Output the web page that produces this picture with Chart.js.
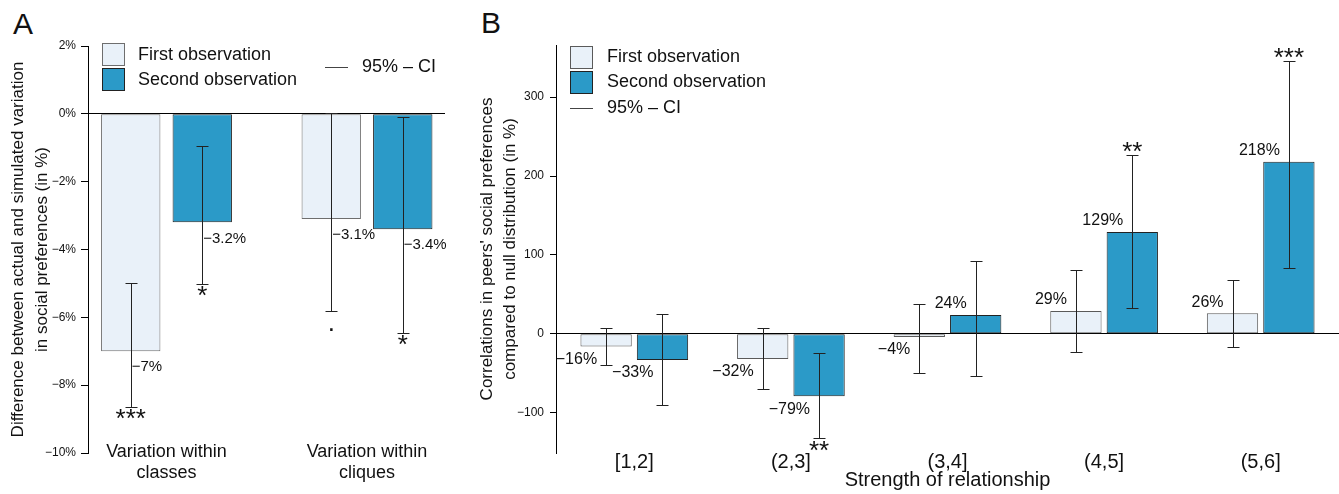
<!DOCTYPE html>
<html>
<head>
<meta charset="utf-8">
<title>Social preferences of peers</title>
<script src="https://cdn.jsdelivr.net/npm/chart.js@4.4.1/dist/chart.umd.min.js"></script>
<style>
  html, body { margin: 0; padding: 0; background: #fff; }
  body { width: 1339px; height: 494px; position: relative; overflow: hidden; font-family: 'Liberation Sans', Arial, sans-serif; }
  canvas { position: absolute; top: 0; }
  #chartA { left: 0; }
  #chartB { left: 460px; }
  .panel { position: absolute; font-size: 30px; line-height: 30px; color: #111; }
</style>
</head>
<body>
<div class="panel" style="left:13px;top:9px">A</div>
<div class="panel" style="left:481px;top:8px">B</div>
<canvas id="chartA" width="460" height="494"></canvas>
<canvas id="chartB" width="879" height="494"></canvas>
<script>
// ---------- panel A ----------
const categoriesA = [['Variation within', 'classes'], ['Variation within', 'cliques']];
const firstA = [-7, -3.1];
const secondA = [-3.2, -3.4];
const ciLowFirstA = [-8.65, -5.8];
const ciHighFirstA = [-5.0, 0.03];
const ciLowSecondA = [-5.03, -6.47];
const ciHighSecondA = [-0.94, -0.09];
const sigFirstA = ['***', '.'];
const sigSecondA = ['*', '*'];
const yTickLabelsA = ['−10%', '−8%', '−6%', '−4%', '−2%', '0%', '2%'];
const yTitleA = ['Difference between actual and simulated variation', 'in social preferences (in %)'];

// ---------- panel B ----------
const categoriesB = ['[1,2]', '(2,3]', '(3,4]', '(4,5]', '(5,6]'];
const firstB = [-16, -32, -4, 29, 26];
const secondB = [-33, -79, 24, 129, 218];
const ciLowFirstB = [-40, -70, -50, -23, -17];
const ciHighFirstB = [7, 8, 38, 81, 68];
const ciLowSecondB = [-90, -132, -53, 33, 84];
const ciHighSecondB = [25, -24, 92, 227, 346];
const sigFirstB = ['', '', '', '', ''];
const sigSecondB = ['', '**', '', '**', '***'];
const yTickLabelsB = ['−100', '0', '100', '200', '300'];
const yTitleB = ["Correlations in peers' social preferences", 'compared to null distribution (in %)'];
const xTitleB = 'Strength of relationship';

const legendLabels = ['First observation', 'Second observation'];
const ciLabel = '95% – CI';

const ink = '#111';
const lightFill = '#e9f1f9';
const darkFill = '#2b9ac8';
const fontFamily = "'Liberation Sans', Arial, sans-serif";

Chart.defaults.font.family = fontFamily;
Chart.defaults.color = ink;

function fmt(v) {
    return (v < 0 ? '−' : '') + Math.abs(v) + '%';
}

// error bars, value labels, stars and legend drawn on top of the bars
function annotations(cfg) {
    return {
        id: 'annot',
        afterDatasetsDraw(chart) {
            const ctx = chart.ctx;
            const yScale = chart.scales.y;
            const xScale = chart.scales.x;
            const a = chart.chartArea;
            ctx.save();
            chart.data.datasets.forEach((ds, d) => {
                const meta = chart.getDatasetMeta(d);
                meta.data.forEach((bar, i) => {
                    const xx = Math.round(bar.x) + 0.5;
                    const lo = Math.round(yScale.getPixelForValue(cfg.ciLow[d][i])) + 0.5;
                    const hi = Math.round(yScale.getPixelForValue(cfg.ciHigh[d][i])) + 0.5;
                    ctx.strokeStyle = '#222';
                    ctx.lineWidth = 1;
                    ctx.beginPath();
                    ctx.moveTo(xx, hi); ctx.lineTo(xx, lo);
                    ctx.moveTo(xx - cfg.cap, hi); ctx.lineTo(xx + cfg.cap, hi);
                    ctx.moveTo(xx - cfg.cap, lo); ctx.lineTo(xx + cfg.cap, lo);
                    ctx.stroke();

                    // value label
                    const v = cfg.values[d][i];
                    ctx.fillStyle = ink;
                    ctx.font = cfg.labelSize + 'px ' + fontFamily;
                    ctx.textBaseline = 'middle';
                    if (cfg.labelSide === 'right') {
                        ctx.textAlign = 'left';
                        ctx.fillText(fmt(v), bar.x + 1, bar.y + 16);
                    } else {
                        ctx.textAlign = 'right';
                        ctx.fillText(fmt(v), bar.x - 9, v >= 0 ? bar.y - 11 : bar.y + 13);
                    }

                    // significance
                    const s = cfg.sig[d][i];
                    if (s) {
                        ctx.font = '26px ' + fontFamily;
                        ctx.textAlign = 'center';
                        ctx.textBaseline = 'alphabetic';
                        if (v >= 0) ctx.fillText(s, bar.x, hi + 4);
                        else ctx.fillText(s, bar.x, lo + cfg.sigBelow);
                    }
                });
            });

            // category labels drawn here so they may sit above the plot bottom
            if (cfg.xLabels) {
                ctx.font = '18px ' + fontFamily;
                ctx.fillStyle = ink;
                ctx.textAlign = 'center';
                ctx.textBaseline = 'middle';
                cfg.xLabels.forEach((lines, i) => {
                    const px = xScale.getPixelForValue(i + 1);
                    lines.forEach((t, k) => ctx.fillText(t, px, a.bottom - 1 + k * 21));
                });
            }

            // legend
            const L = cfg.legend;
            ctx.font = '18px ' + fontFamily;
            ctx.textAlign = 'left';
            ctx.textBaseline = 'middle';
            chart.data.datasets.forEach((ds, d) => {
                const bx = a.left + L.boxX + 0.5;
                const by = a.top + L.boxY[d] + 0.5;
                ctx.fillStyle = ds.backgroundColor;
                ctx.fillRect(bx, by, 22, 22);
                ctx.strokeStyle = ds.borderColor;
                ctx.strokeRect(bx, by, 22, 22);
                ctx.fillStyle = ink;
                ctx.fillText(ds.label, a.left + L.textX, a.top + L.textY[d]);
            });
            ctx.strokeStyle = '#444';
            ctx.beginPath();
            ctx.moveTo(a.left + L.ciLine[0], a.top + L.ciLine[2] + 0.5);
            ctx.lineTo(a.left + L.ciLine[1], a.top + L.ciLine[2] + 0.5);
            ctx.stroke();
            ctx.fillStyle = ink;
            ctx.fillText(ciLabel, a.left + L.ciText[0], a.top + L.ciText[1]);
            ctx.restore();
        }
    };
}

function zeroLine(c) {
    return c.tick && c.tick.value === 0 ? '#000' : 'rgba(0,0,0,0)';
}

// ---------- chart A ----------
new Chart(document.getElementById('chartA'), {
    type: 'bar',
    data: {
        datasets: [{
            label: legendLabels[0],
            data: firstA.map((v, i) => ({ x: i + 1, y: v })),
            backgroundColor: lightFill,
            borderColor: '#6e6e6e',
            borderWidth: 1,
            borderSkipped: false,
            categoryPercentage: 0.914,
            barPercentage: 0.83
        },
        {
            label: legendLabels[1],
            data: secondA.map((v, i) => ({ x: i + 1, y: v })),
            backgroundColor: darkFill,
            borderColor: '#222',
            borderWidth: 1,
            borderSkipped: false,
            categoryPercentage: 0.914,
            barPercentage: 0.83
        }]
    },
    options: {
        responsive: false,
        animation: false,
        layout: { padding: { top: 46, right: 15, left: 0, bottom: 0 } },
        plugins: { legend: { display: false }, tooltip: { enabled: false } },
        scales: {
            x: {
                type: 'linear',
                bounds: 'data',
                offset: false,
                min: 0.6085,
                max: 2.389,
                grid: { display: false, drawTicks: false, offset: false },
                border: { display: false },
                ticks: { display: false, stepSize: 1, includeBounds: false },
                afterFit: s => { s.height = 41; }
            },
            y: {
                min: -10,
                max: 2,
                ticks: { stepSize: 2, padding: 5, color: ink, font: { size: 12 }, callback: (v, i) => yTickLabelsA[i] },
                grid: { color: zeroLine, tickColor: '#000', tickLength: 7, lineWidth: 1 },
                border: { display: true, color: '#000', width: 1 },
                title: { display: true, text: yTitleA, color: ink, font: { size: 17, lineHeight: 1.41 }, padding: { top: 6, bottom: 0 } },
                afterFit: s => { s.width = 88; }
            }
        }
    },
    plugins: [annotations({
        values: [firstA, secondA],
        ciLow: [ciLowFirstA, ciLowSecondA],
        ciHigh: [ciHighFirstA, ciHighSecondA],
        sig: [sigFirstA, sigSecondA],
        sigBelow: 19,
        xLabels: categoriesA,
        cap: 6,
        labelSize: 15,
        labelSide: 'right',
        legend: { boxX: 14, boxY: [-3, 22], textX: 50, textY: [9, 34], ciLine: [237, 260, 21], ciText: [274, 21] }
    })]
});

// ---------- chart B ----------
new Chart(document.getElementById('chartB'), {
    type: 'bar',
    data: {
        labels: categoriesB,
        datasets: [{
            label: legendLabels[0],
            data: firstB,
            backgroundColor: lightFill,
            borderColor: '#5a5a5a',
            borderWidth: 1,
            borderSkipped: false,
            categoryPercentage: 0.72,
            barPercentage: 0.91
        },
        {
            label: legendLabels[1],
            data: secondB,
            backgroundColor: darkFill,
            borderColor: '#222',
            borderWidth: 1,
            borderSkipped: false,
            categoryPercentage: 0.72,
            barPercentage: 0.91
        }]
    },
    options: {
        responsive: false,
        animation: false,
        layout: { padding: { top: 45, right: 0, left: 0, bottom: 0 } },
        plugins: { legend: { display: false }, tooltip: { enabled: false } },
        scales: {
            x: {
                grid: { display: false, drawTicks: false },
                border: { display: false },
                ticks: { padding: -2.5, color: ink, maxRotation: 0, font: { size: 20, lineHeight: 1.15 } },
                title: { display: true, text: xTitleB, color: ink, font: { size: 20, lineHeight: 1.15 }, padding: { top: 0, bottom: 2.5 } },
                afterFit: s => { s.height = 41; }
            },
            y: {
                min: -151,
                max: 366,
                ticks: { stepSize: 100, includeBounds: false, padding: 6, color: ink, font: { size: 12 }, callback: (v, i) => yTickLabelsB[i] },
                grid: { color: zeroLine, tickColor: '#000', tickLength: 6, lineWidth: 1 },
                border: { display: true, color: '#000', width: 1 },
                title: { display: true, text: yTitleB, color: ink, font: { size: 17, lineHeight: 23 / 17 }, padding: { top: 15.5, bottom: 0 } },
                afterFit: s => { s.width = 96; }
            }
        }
    },
    plugins: [annotations({
        values: [firstB, secondB],
        ciLow: [ciLowFirstB, ciLowSecondB],
        ciHigh: [ciHighFirstB, ciHighSecondB],
        sig: [sigFirstB, sigSecondB],
        sigBelow: 20,
        cap: 6,
        labelSize: 16,
        labelSide: 'left',
        legend: { boxX: 14, boxY: [1, 26], textX: 51, textY: [12, 37], ciLine: [14, 37, 63], ciText: [51, 63] }
    })]
});
</script>
</body>
</html>
